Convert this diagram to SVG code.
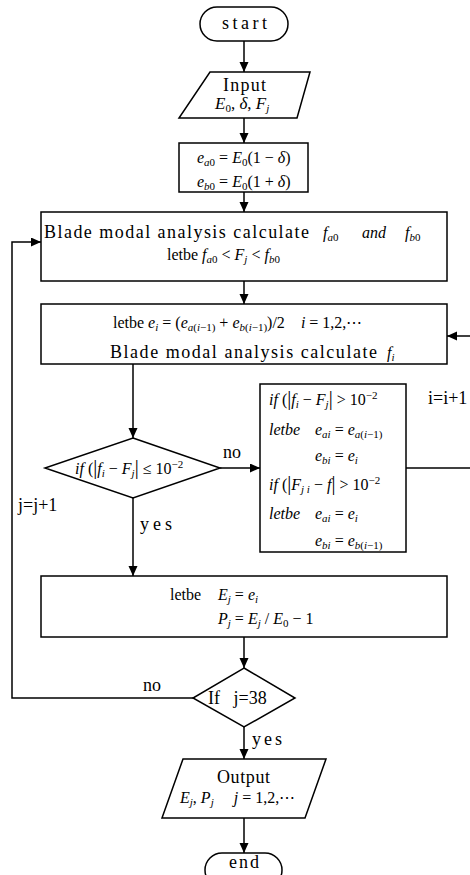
<svg xmlns="http://www.w3.org/2000/svg" width="470" height="875" viewBox="0 0 470 875">
<style>
text{white-space:pre}
.ln{stroke:#000;stroke-width:1.5;fill:none}
.sh{stroke:#000;stroke-width:1.5;fill:#fff}
.mono{font-family:"Liberation Serif",serif;font-size:18px}
.m{font-family:"Liberation Serif",serif;font-size:16px}
.i{font-style:italic}
.s{font-size:11px}
.b{font-size:20px}
.lab{font-family:"Liberation Serif",serif;font-size:18px}
</style>
<defs>
<marker id="ah" markerWidth="10" markerHeight="10" refX="10" refY="4.5" orient="auto" markerUnits="userSpaceOnUse"><path d="M0,0 L10,4.5 L0,9 z" fill="#000"/></marker>
</defs>
<rect width="470" height="875" fill="#fff"/>

<g id="connectors">
<path class="ln" d="M244,41 V72" marker-end="url(#ah)"/>
<path class="ln" d="M244,118 V143" marker-end="url(#ah)"/>
<path class="ln" d="M244,192 V212" marker-end="url(#ah)"/>
<path class="ln" d="M244,281 V304" marker-end="url(#ah)"/>
<path class="ln" d="M133,364 V438" marker-end="url(#ah)"/>
<path class="ln" d="M220,468 H260" marker-end="url(#ah)"/>
<path class="ln" d="M406,468 H470"/>
<path class="ln" d="M470,336 H447" marker-end="url(#ah)"/>
<path class="ln" d="M133,498 V576" marker-end="url(#ah)"/>
<path class="ln" d="M244,637 V668" marker-end="url(#ah)"/>
<path class="ln" d="M193,698 H12 V242 H41" marker-end="url(#ah)"/>
<path class="ln" d="M244,727 V759" marker-end="url(#ah)"/>
<path class="ln" d="M244,818 V853" marker-end="url(#ah)"/>
<text class="lab" x="223" y="458">no</text>
<text class="mono" x="140" y="530" textLength="32">yes</text>
<text class="lab" x="18" y="511">j=j+1</text>
<text class="lab" x="428" y="404">i=i+1</text>
<text class="lab" x="143" y="691">no</text>
<text class="mono" x="252" y="745" textLength="30">yes</text>
</g>

<g id="start">
<rect class="sh" x="200" y="7" width="88" height="34" rx="17"/>
<text class="mono" x="222" y="29" textLength="45">start</text>
</g>

<g id="input">
<polygon class="sh" points="210,72 310,72 297,118 179,118"/>
<text class="mono" x="223" y="91" textLength="43">Input</text>
<text class="m i" x="215" y="109" style="font-size:17px">E<tspan class="s" dy="3" style="font-style:normal">0</tspan><tspan dy="-3" style="font-style:normal">, </tspan>δ<tspan style="font-style:normal">, </tspan>F<tspan class="s" dy="3">j</tspan></text>
</g>

<g id="init">
<rect class="sh" x="179" y="143" width="129" height="49"/>
<text class="m" x="197" y="163"><tspan class="i">e</tspan><tspan class="s i" dy="3">a</tspan><tspan class="s">0</tspan><tspan dy="-3"> = </tspan><tspan class="i">E</tspan><tspan class="s" dy="3">0</tspan><tspan dy="-3">(1 − </tspan><tspan class="i">δ</tspan>)</text>
<text class="m" x="197" y="187"><tspan class="i">e</tspan><tspan class="s i" dy="3">b</tspan><tspan class="s">0</tspan><tspan dy="-3"> = </tspan><tspan class="i">E</tspan><tspan class="s" dy="3">0</tspan><tspan dy="-3">(1 + </tspan><tspan class="i">δ</tspan>)</text>
</g>

<g id="blade0">
<rect class="sh" x="41" y="212" width="406" height="69"/>
<text class="mono" x="44" y="238" textLength="265">Blade modal analysis calculate</text>
<text class="m i" x="323" y="238">f<tspan class="s" dy="3">a</tspan><tspan class="s" style="font-style:normal">0</tspan></text>
<text class="m i" x="362" y="238">and</text>
<text class="m i" x="405" y="238">f<tspan class="s" dy="3">b</tspan><tspan class="s" style="font-style:normal">0</tspan></text>
<text class="m" x="167" y="260">letbe <tspan class="i">f</tspan><tspan class="s i" dy="3">a</tspan><tspan class="s">0</tspan><tspan dy="-3"> &lt; </tspan><tspan class="i">F</tspan><tspan class="s i" dy="3">j</tspan><tspan dy="-3"> &lt; </tspan><tspan class="i">f</tspan><tspan class="s i" dy="3">b</tspan><tspan class="s">0</tspan></text>
</g>

<g id="bisect">
<rect class="sh" x="41" y="304" width="406" height="60"/>
<text class="m" x="113" y="328">letbe <tspan class="i">e</tspan><tspan class="s i" dy="3">i</tspan><tspan dy="-3"> = (</tspan><tspan class="i">e</tspan><tspan class="s" dy="3"><tspan class="i">a</tspan>(<tspan class="i">i</tspan>−1)</tspan><tspan dy="-3"> + </tspan><tspan class="i">e</tspan><tspan class="s" dy="3"><tspan class="i">b</tspan>(<tspan class="i">i</tspan>−1)</tspan><tspan dy="-3">)/2    </tspan><tspan class="i">i</tspan> = 1,2,⋯</text>
<text class="mono" x="110" y="358" textLength="267">Blade modal analysis calculate</text>
<text class="m i" x="387" y="358">f<tspan class="s" dy="3">i</tspan></text>
</g>

<g id="check">
<polygon class="sh" points="133,438 220,468 133,498 45,468"/>
<text class="m" x="75" y="474"><tspan class="i">if</tspan> (<tspan class="b">|</tspan><tspan class="i">f</tspan><tspan class="s i" dy="3">i</tspan><tspan dy="-3"> − </tspan><tspan class="i">F</tspan><tspan class="s i" dy="3">j</tspan><tspan dy="-3" class="b">|</tspan> ≤ 10<tspan class="s" dy="-6">−2</tspan></text>
</g>

<g id="update">
<rect class="sh" x="260" y="384" width="146" height="168"/>
<text class="m" x="269" y="405"><tspan class="i">if</tspan> (<tspan class="b">|</tspan><tspan class="i">f</tspan><tspan class="s i" dy="3">i</tspan><tspan dy="-3"> − </tspan><tspan class="i">F</tspan><tspan class="s i" dy="3">j</tspan><tspan dy="-3" class="b">|</tspan> &gt; 10<tspan class="s" dy="-6">−2</tspan></text>
<text class="m i" x="269" y="435">letbe</text>
<text class="m" x="315" y="435"><tspan class="i">e</tspan><tspan class="s i" dy="3">ai</tspan><tspan dy="-3"> = </tspan><tspan class="i">e</tspan><tspan class="s" dy="3"><tspan class="i">a</tspan>(<tspan class="i">i</tspan>−1)</tspan></text>
<text class="m" x="315" y="461"><tspan class="i">e</tspan><tspan class="s i" dy="3">bi</tspan><tspan dy="-3"> = </tspan><tspan class="i">e</tspan><tspan class="s i" dy="3">i</tspan></text>
<text class="m" x="269" y="490"><tspan class="i">if</tspan> (<tspan class="b">|</tspan><tspan class="i">F</tspan><tspan class="s i" dy="3">j i</tspan><tspan dy="-3"> − </tspan><tspan class="i">f</tspan><tspan class="b">|</tspan> &gt; 10<tspan class="s" dy="-6">−2</tspan></text>
<text class="m i" x="269" y="519">letbe</text>
<text class="m" x="315" y="519"><tspan class="i">e</tspan><tspan class="s i" dy="3">ai</tspan><tspan dy="-3"> = </tspan><tspan class="i">e</tspan><tspan class="s i" dy="3">i</tspan></text>
<text class="m" x="315" y="546"><tspan class="i">e</tspan><tspan class="s i" dy="3">bi</tspan><tspan dy="-3"> = </tspan><tspan class="i">e</tspan><tspan class="s" dy="3"><tspan class="i">b</tspan>(<tspan class="i">i</tspan>−1)</tspan></text>
</g>

<g id="result">
<rect class="sh" x="41" y="576" width="406" height="61"/>
<text class="m" x="170" y="600">letbe</text>
<text class="m" x="218" y="600"><tspan class="i">E</tspan><tspan class="s i" dy="3">j</tspan><tspan dy="-3"> = </tspan><tspan class="i">e</tspan><tspan class="s i" dy="3">i</tspan></text>
<text class="m" x="218" y="624"><tspan class="i">P</tspan><tspan class="s i" dy="3">j</tspan><tspan dy="-3"> = </tspan><tspan class="i">E</tspan><tspan class="s i" dy="3">j</tspan><tspan dy="-3"> / </tspan><tspan class="i">E</tspan><tspan class="s" dy="3">0</tspan><tspan dy="-3"> − 1</tspan></text>
</g>

<g id="loopcheck">
<polygon class="sh" points="244,668 295,698 244,727 193,698"/>
<text class="lab" x="208" y="704">If   j=38</text>
</g>

<g id="output">
<polygon class="sh" points="183,759 326,759 305,818 162,818"/>
<text class="mono" x="217" y="783" textLength="53">Output</text>
<text class="m" x="180" y="803"><tspan class="i">E</tspan><tspan class="s i" dy="3">j</tspan><tspan dy="-3">, </tspan><tspan class="i">P</tspan><tspan class="s i" dy="3">j</tspan><tspan dy="-3">     </tspan><tspan class="i">j</tspan> = 1,2,⋯</text>
</g>

<g id="end">
<rect class="sh" x="205" y="853" width="77" height="34" rx="17"/>
<text class="mono" x="229" y="868" textLength="30">end</text>
</g>
</svg>
